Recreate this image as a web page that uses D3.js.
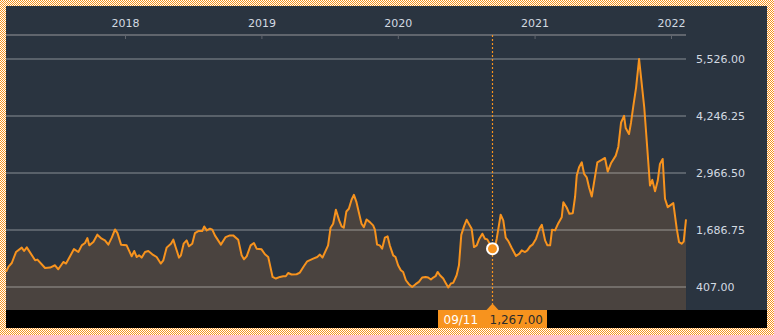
<!DOCTYPE html>
<html>
<head>
    <script src="https://d3js.org/d3.v7.min.js"></script>
    <style>
        body { margin: 0; background: #fff; }
        svg { display: block; font-family: "DejaVu Sans", Verdana, sans-serif; }
    </style>
</head>
<body>
    <svg width="774" height="335"></svg>
    <script>
        // sample dates as decimal years
        const years = [
            2017.128, 2017.145, 2017.170, 2017.201, 2017.243, 2017.260, 2017.280, 2017.341, 2017.358, 2017.414,
            2017.451, 2017.487, 2017.511, 2017.548, 2017.568, 2017.626, 2017.658, 2017.683, 2017.707, 2017.724,
            2017.738, 2017.768, 2017.797, 2017.829, 2017.853, 2017.878, 2017.903, 2017.927, 2017.945, 2017.971,
            2018.012, 2018.049, 2018.068, 2018.086, 2018.103, 2018.122, 2018.147, 2018.171, 2018.200, 2018.232,
            2018.262, 2018.281, 2018.305, 2018.337, 2018.354, 2018.371, 2018.396, 2018.410, 2018.430, 2018.452,
            2018.469, 2018.493, 2018.513, 2018.537, 2018.566, 2018.581, 2018.599, 2018.623, 2018.640, 2018.659,
            2018.703, 2018.738, 2018.769, 2018.793, 2018.830, 2018.855, 2018.872, 2018.892, 2018.921, 2018.945,
            2018.965, 2019.001, 2019.026, 2019.050, 2019.082, 2019.106, 2019.136, 2019.160, 2019.179, 2019.196,
            2019.221, 2019.258, 2019.282, 2019.311, 2019.336, 2019.380, 2019.409, 2019.429, 2019.448, 2019.489,
            2019.507, 2019.526, 2019.546, 2019.570, 2019.588, 2019.604, 2019.623, 2019.641, 2019.661, 2019.678,
            2019.697, 2019.714, 2019.734, 2019.751, 2019.771, 2019.795, 2019.819, 2019.832, 2019.848, 2019.868,
            2019.885, 2019.905, 2019.925, 2019.941, 2019.966, 2019.983, 2020.002, 2020.022, 2020.039, 2020.059,
            2020.081, 2020.105, 2020.130, 2020.154, 2020.178, 2020.203, 2020.222, 2020.242, 2020.259, 2020.276,
            2020.291, 2020.308, 2020.332, 2020.350, 2020.369, 2020.388, 2020.405, 2020.430, 2020.447, 2020.464,
            2020.484, 2020.503, 2020.522, 2020.540, 2020.557, 2020.577, 2020.596, 2020.618, 2020.637, 2020.654,
            2020.674, 2020.694, 2020.711, 2020.723, 2020.752, 2020.771, 2020.789, 2020.808, 2020.833, 2020.864,
            2020.889, 2020.906, 2020.930, 2020.947, 2020.967, 2020.987, 2021.011, 2021.035, 2021.053, 2021.077,
            2021.094, 2021.114, 2021.128, 2021.150, 2021.174, 2021.199, 2021.211, 2021.236, 2021.255, 2021.280,
            2021.297, 2021.309, 2021.326, 2021.346, 2021.363, 2021.382, 2021.399, 2021.419, 2021.438, 2021.460,
            2021.492, 2021.516, 2021.536, 2021.560, 2021.595, 2021.614, 2021.634, 2021.656, 2021.668, 2021.692,
            2021.707, 2021.724, 2021.744, 2021.766, 2021.780, 2021.804, 2021.822, 2021.846, 2021.863, 2021.883,
            2021.903, 2021.919, 2021.939, 2021.956, 2021.976, 2022.017, 2022.042, 2022.059, 2022.078, 2022.093,
            2022.110
        ];
        const values = [
            745, 857, 946, 1192, 1291, 1215, 1297, 1007, 1022, 834,
            843, 895, 805, 969, 933, 1259, 1192, 1342, 1394, 1506,
            1342, 1416, 1582, 1492, 1454, 1358, 1515, 1700, 1617, 1358,
            1342, 1096, 1215, 1080, 1118, 1067, 1192, 1215, 1141, 1080,
            933, 1007, 1291, 1380, 1470, 1304, 1067, 1118, 1380, 1454,
            1320, 1380, 1617, 1662, 1662, 1767, 1678, 1716, 1694, 1566,
            1358, 1528, 1566, 1566, 1470, 1118, 1029, 1096, 1342, 1394,
            1268, 1253, 1141, 1080, 633, 597, 633, 649, 649, 722,
            687, 693, 731, 872, 984, 1045, 1080, 1134, 1067, 1342,
            1738, 1828, 2141, 1902, 1767, 1738, 2103, 2163, 2365, 2477,
            2311, 2087, 1828, 1752, 1924, 1864, 1790, 1694, 1358, 1342,
            1268, 1515, 1544, 1342, 1118, 1080, 895, 783, 745, 559,
            470, 409, 470, 521, 620, 633, 620, 575, 620, 649,
            745, 671, 597, 499, 396, 485, 499, 671, 895, 1577,
            1767, 1917, 1812, 1716, 1304, 1342, 1492, 1604, 1492, 1476,
            1365, 1267, 1320, 1492, 2029, 1902, 1515, 1438, 1282, 1103,
            1157, 1230, 1192, 1230, 1320, 1365, 1492, 1716, 1805, 1454,
            1342, 1342, 1694, 1678, 1841, 1975, 2311, 2186, 2051, 2065,
            2439, 2908, 3094, 3206, 2946, 2870, 2647, 2439, 2797, 3206,
            3260, 3304, 2998, 3184, 3356, 3557, 4101, 4251, 3976, 3841,
            4101, 4475, 4884, 5526, 5123, 4437, 3691, 2685, 2812, 2557,
            2797, 3170, 3282, 2387, 2199, 2289, 1716, 1416, 1380, 1425,
            1924
        ];
        const yTicks = [407, 1686.75, 2966.5, 4246.25, 5526];
        const xTickYears = [2018, 2019, 2020, 2021, 2022];
        const focusDate = "2020-09-11";
        const focusValue = 1267;

        const orange = "#f7931e";
        const left = 6, right = 686, plotTop = 35, plotBottom = 310;

        const svg = d3.select("svg");

        // dotted orange frame
        const defs = svg.append("defs");
        const pat = defs.append("pattern")
            .attr("id", "dots")
            .attr("width", 2).attr("height", 2)
            .attr("patternUnits", "userSpaceOnUse");
        pat.append("rect").attr("width", 2).attr("height", 2).attr("fill", "#fff");
        pat.append("rect").attr("width", 1).attr("height", 1).attr("fill", orange);
        pat.append("rect").attr("x", 1).attr("y", 1).attr("width", 1).attr("height", 1).attr("fill", orange);
        svg.append("rect").attr("width", 774).attr("height", 335).attr("fill", "url(#dots)");

        svg.append("rect")
            .attr("x", 6).attr("y", 6).attr("width", 761).attr("height", 304)
            .attr("fill", "#2a3440");
        svg.append("rect")
            .attr("x", 6).attr("y", 310).attr("width", 761).attr("height", 18)
            .attr("fill", "#000");

        const toDate = y => {
            const yr = Math.floor(y);
            const start = new Date(yr, 0, 1), end = new Date(yr + 1, 0, 1);
            return new Date(+start + (y - yr) * (end - start));
        };
        const data = years.map((y, i) => ({date: toDate(y), value: values[i]}));

        const x = d3.scaleTime()
            .domain([new Date(2018, 0, 1), new Date(2022, 0, 1)])
            .range([125, 671]);
        const y = d3.scaleLinear()
            .domain([407, 5526])
            .range([287, 59]);

        // area + line
        svg.append("path")
            .datum(data)
            .attr("fill", "#4a433f")
            .attr("d", d3.area().x(d => x(d.date)).y0(plotBottom).y1(d => y(d.value)));

        // gridlines
        svg.append("g")
            .selectAll("line")
            .data(yTicks)
            .join("line")
            .attr("x1", left).attr("x2", right)
            .attr("y1", d => y(d)).attr("y2", d => y(d))
            .attr("stroke", "rgba(255,255,255,0.3)")
            .attr("stroke-width", 1.3);

        svg.append("path")
            .datum(data)
            .attr("fill", "none")
            .attr("stroke", orange)
            .attr("stroke-width", 2)
            .attr("stroke-linejoin", "round")
            .attr("d", d3.line().x(d => x(d.date)).y(d => y(d.value)));

        // y labels
        svg.append("g")
            .selectAll("text")
            .data(yTicks)
            .join("text")
            .attr("x", 696)
            .attr("y", d => y(d))
            .attr("dy", "0.35em")
            .attr("fill", "#d3dae2")
            .style("font-size", "11px")
            .text(d => d3.format(",.2f")(d));

        // top year axis
        const xAxis = svg.append("g")
            .attr("transform", "translate(0," + plotTop + ")")
            .call(d3.axisBottom(x)
                .tickValues(xTickYears.map(v => new Date(v, 0, 1)))
                .tickFormat(d3.timeFormat("%Y"))
                .tickSizeInner(4).tickSizeOuter(0));
        xAxis.select(".domain").remove();
        xAxis.insert("line", ":first-child")
            .attr("x1", left).attr("x2", right)
            .attr("stroke", "#60656d").attr("stroke-width", 2);
        xAxis.selectAll(".tick line").attr("stroke", "#60656d");
        xAxis.selectAll(".tick text")
            .attr("y", -8).attr("dy", 0)
            .attr("fill", "#d3dae2")
            .style("font-size", "11px")
            .style("font-family", "DejaVu Sans, Verdana, sans-serif");

        // crosshair at the focus point
        const fd = d3.timeParse("%Y-%m-%d")(focusDate);
        const fx = Math.floor(x(fd)) + 0.5;
        svg.append("line")
            .attr("x1", fx).attr("x2", fx)
            .attr("y1", plotTop).attr("y2", 304)
            .attr("stroke", orange)
            .attr("stroke-width", 1.2)
            .attr("stroke-dasharray", "2,2");
        svg.append("circle")
            .attr("cx", fx).attr("cy", y(focusValue))
            .attr("r", 5.5)
            .attr("fill", orange)
            .attr("stroke", "#fff")
            .attr("stroke-width", 2);

        const tag = svg.append("g").attr("transform", "translate(" + fx + ",0)");
        tag.append("path")
            .attr("d", "M-6,310L0,303.5L6,310Z")
            .attr("fill", orange);
        tag.append("rect")
            .attr("x", -54.5).attr("y", 310).attr("width", 109).attr("height", 18)
            .attr("fill", orange);
        tag.append("text")
            .attr("x", -49).attr("y", 324)
            .attr("fill", "#fff")
            .style("font-size", "12px")
            .text(d3.timeFormat("%m/%d")(fd));
        tag.append("text")
            .attr("x", -3).attr("y", 324)
            .attr("fill", "#2b2b2b")
            .style("font-size", "12px")
            .text(d3.format(",.2f")(focusValue));
    </script>
</body>
</html>
